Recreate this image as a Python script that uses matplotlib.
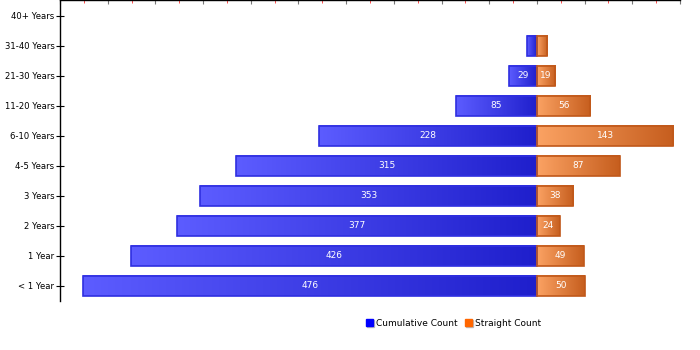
import numpy as np
import matplotlib
matplotlib.use("Agg")
import matplotlib.pyplot as plt
from matplotlib.colors import LinearSegmentedColormap
from matplotlib.patches import Rectangle
from matplotlib.ticker import MultipleLocator

categories = ["< 1 Year", "1 Year", "2 Years", "3 Years", "4-5 Years",
              "6-10 Years", "11-20 Years", "21-30 Years", "31-40 Years", "40+ Years"]
cumulative = [476, 426, 377, 353, 315, 228, 85, 29, 10, 0]
straight = [50, 49, 24, 38, 87, 143, 56, 19, 11, 0]

blue_map = LinearSegmentedColormap.from_list("b", ["#5c5cff", "#1f1fcc"])
orange_map = LinearSegmentedColormap.from_list("o", ["#fba263", "#c65e1e"])
grad = np.linspace(0, 1, 128).reshape(1, -1)

fig = plt.figure(figsize=(7, 3.5), dpi=100)
ax = fig.add_axes([60 / 700, 49 / 350, 620 / 700, 301 / 350])

h = 0.667
ys = np.arange(len(categories))


def shaded_bar(y, left, width, cmap, edge):
    if width <= 0:
        return
    ax.imshow(grad, cmap=cmap, extent=(left, left + width, y - h / 2, y + h / 2),
              aspect="auto", interpolation="bicubic", zorder=2)
    ax.add_patch(Rectangle((left, y - h / 2), width, h, fill=False,
                           edgecolor=edge, linewidth=1.2, zorder=3))


for y, c, s in zip(ys, cumulative, straight):
    shaded_bar(y, -c, c, blue_map, "#2f2fe0")
    shaded_bar(y, 0, s, orange_map, "#c0581a")
    if c >= 20:
        ax.text(-c / 2, y, str(c), color="white", ha="center", va="center",
                fontsize=6.5, zorder=4)
    if s >= 15:
        ax.text(s / 2, y, str(s), color="white", ha="center", va="center",
                fontsize=6.5, zorder=4)

ax.set_xlim(-500, 150)
ax.set_ylim(-0.5, 9.53)
ax.set_yticks(ys)
ax.set_yticklabels(categories, fontsize=6.1)
ax.tick_params(axis="y", direction="inout", length=6, width=0.8, pad=1)

ax.xaxis.tick_top()
ax.xaxis.set_major_locator(MultipleLocator(50))
ax.xaxis.set_minor_locator(MultipleLocator(25))
ax.tick_params(axis="x", which="major", direction="in", length=3, color="#777777",
               labeltop=False, labelbottom=False)
ax.tick_params(axis="x", which="minor", direction="in", length=2, color="#ff3030")

ax.spines["right"].set_visible(False)
ax.spines["bottom"].set_visible(False)
for sp in ("top", "left"):
    ax.spines[sp].set_linewidth(1.0)

# legend with little shadowed squares
lx = 366 / 700
ly = (350 - 323) / 350
for x0, col, lab in [(lx, "#0000ff", "Cumulative Count"),
                     (lx + 0.141, "#ff6600", "Straight Count")]:
    fig.patches.append(Rectangle((x0 + 0.0015, ly - 0.011), 7 / 700, 7 / 350,
                                 transform=fig.transFigure, color="#bbbbbb"))
    fig.patches.append(Rectangle((x0, ly - 0.008), 7 / 700, 7 / 350,
                                 transform=fig.transFigure, color=col))
    fig.text(x0 + 0.014, ly, lab, fontsize=6.5, va="center", ha="left")

fig.savefig("out.png", dpi=100)
